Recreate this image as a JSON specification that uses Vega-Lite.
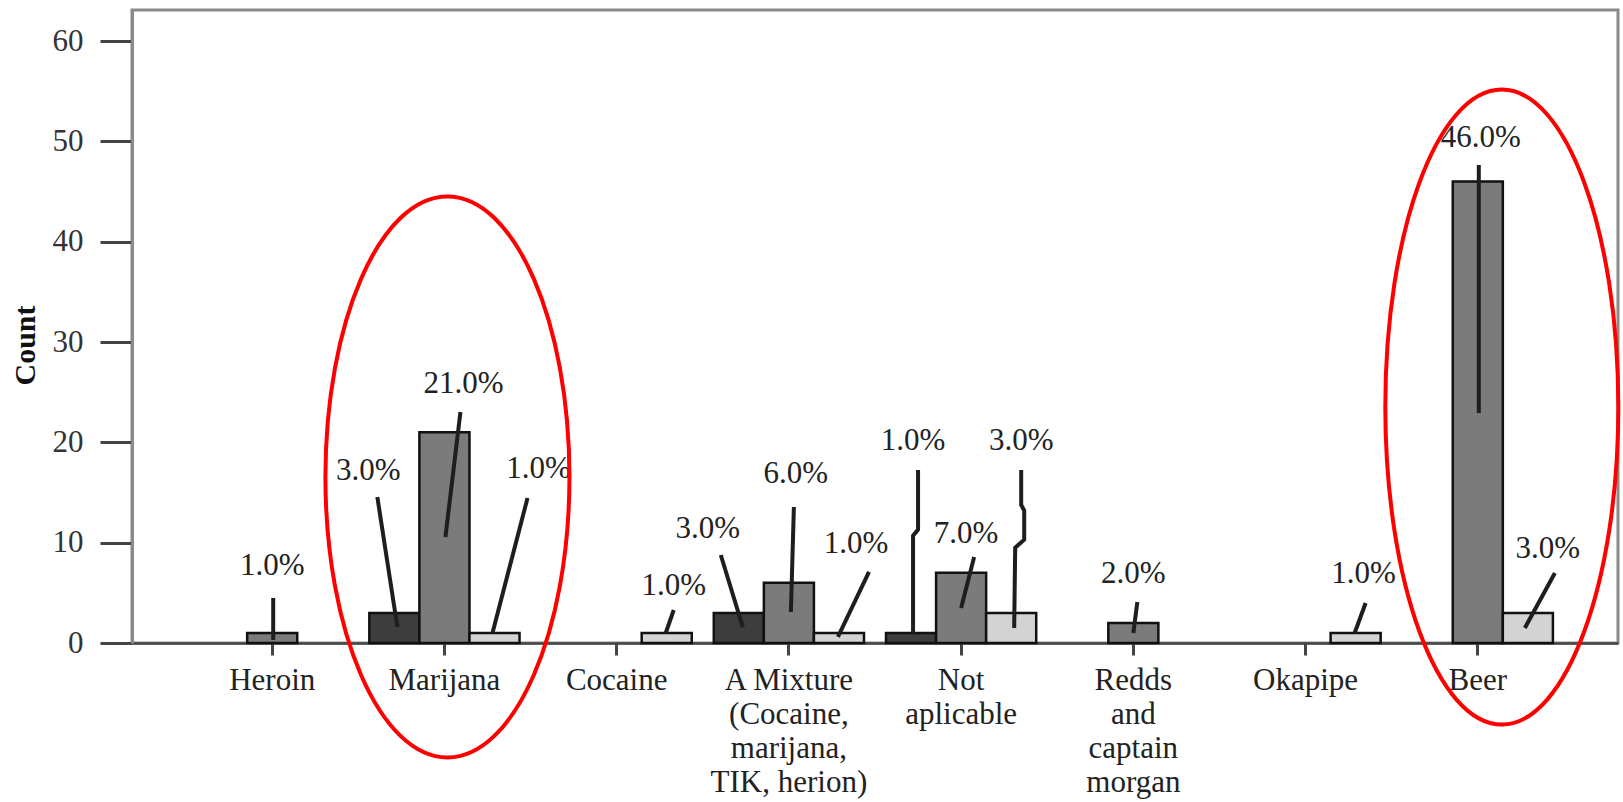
{
  "$schema": "https://vega.github.io/schema/vega-lite/v6.json",
  "width": 1486,
  "height": 633,
  "autosize": {"type": "none"},
  "padding": {"left": 132, "top": 10, "right": 5, "bottom": 159},
  "background": "white",
  "config": {
    "font": "Liberation Serif",
    "view": {"stroke": "#8a8a8a", "strokeWidth": 3}
  },
  "datasets": {
    "bars": [
      {"cat": "Heroin", "grp": "G2", "count": 1},
      {"cat": "Marijana", "grp": "G1", "count": 3},
      {"cat": "Marijana", "grp": "G2", "count": 21},
      {"cat": "Marijana", "grp": "G3", "count": 1},
      {"cat": "Cocaine", "grp": "G3", "count": 1},
      {"cat": "A Mixture\n(Cocaine,\nmarijana,\nTIK, herion)", "grp": "G1", "count": 3},
      {"cat": "A Mixture\n(Cocaine,\nmarijana,\nTIK, herion)", "grp": "G2", "count": 6},
      {"cat": "A Mixture\n(Cocaine,\nmarijana,\nTIK, herion)", "grp": "G3", "count": 1},
      {"cat": "Not\naplicable", "grp": "G1", "count": 1},
      {"cat": "Not\naplicable", "grp": "G2", "count": 7},
      {"cat": "Not\naplicable", "grp": "G3", "count": 3},
      {"cat": "Redds\nand\ncaptain\nmorgan", "grp": "G2", "count": 2},
      {"cat": "Okapipe", "grp": "G3", "count": 1},
      {"cat": "Beer", "grp": "G2", "count": 46},
      {"cat": "Beer", "grp": "G3", "count": 3}
    ],
    "labels": [
      {"cat": "Heroin", "pct": "1.0%", "off": 0, "count": 6.78},
      {"cat": "Marijana", "pct": "3.0%", "off": -1.52, "count": 16.25},
      {"cat": "Marijana", "pct": "21.0%", "off": 0.38, "count": 24.92},
      {"cat": "Marijana", "pct": "1.0%", "off": 1.88, "count": 16.45},
      {"cat": "Cocaine", "pct": "1.0%", "off": 1.14, "count": 4.78},
      {"cat": "A Mixture\n(Cocaine,\nmarijana,\nTIK, herion)", "pct": "3.0%", "off": -1.62, "count": 10.47},
      {"cat": "A Mixture\n(Cocaine,\nmarijana,\nTIK, herion)", "pct": "6.0%", "off": 0.14, "count": 15.95},
      {"cat": "A Mixture\n(Cocaine,\nmarijana,\nTIK, herion)", "pct": "1.0%", "off": 1.34, "count": 8.97},
      {"cat": "Not\naplicable", "pct": "1.0%", "off": -0.96, "count": 19.24},
      {"cat": "Not\naplicable", "pct": "7.0%", "off": 0.1, "count": 9.97},
      {"cat": "Not\naplicable", "pct": "3.0%", "off": 1.2, "count": 19.24},
      {"cat": "Redds\nand\ncaptain\nmorgan", "pct": "2.0%", "off": 0, "count": 5.98},
      {"cat": "Okapipe", "pct": "1.0%", "off": 1.16, "count": 5.98},
      {"cat": "Beer", "pct": "46.0%", "off": 0.06, "count": 49.44},
      {"cat": "Beer", "pct": "3.0%", "off": 1.4, "count": 8.47}
    ],
    "leaders": [
      {"id": 1, "pt": 1, "cat": "Heroin", "off": 0.02, "count": 4.49},
      {"id": 1, "pt": 2, "cat": "Heroin", "off": 0.02, "count": 0.3},
      {"id": 2, "pt": 1, "cat": "Marijana", "off": -1.34, "count": 14.55},
      {"id": 2, "pt": 2, "cat": "Marijana", "off": -0.94, "count": 1.59},
      {"id": 3, "pt": 1, "cat": "Marijana", "off": 0.32, "count": 23.02},
      {"id": 3, "pt": 2, "cat": "Marijana", "off": 0.02, "count": 10.57},
      {"id": 4, "pt": 1, "cat": "Marijana", "off": 1.66, "count": 14.45},
      {"id": 4, "pt": 2, "cat": "Marijana", "off": 0.96, "count": 1.0},
      {"id": 5, "pt": 1, "cat": "Cocaine", "off": 1.14, "count": 3.29},
      {"id": 5, "pt": 2, "cat": "Cocaine", "off": 0.98, "count": 1.0},
      {"id": 6, "pt": 1, "cat": "A Mixture\n(Cocaine,\nmarijana,\nTIK, herion)", "off": -1.36, "count": 8.77},
      {"id": 6, "pt": 2, "cat": "A Mixture\n(Cocaine,\nmarijana,\nTIK, herion)", "off": -0.92, "count": 1.59},
      {"id": 7, "pt": 1, "cat": "A Mixture\n(Cocaine,\nmarijana,\nTIK, herion)", "off": 0.1, "count": 13.56},
      {"id": 7, "pt": 2, "cat": "A Mixture\n(Cocaine,\nmarijana,\nTIK, herion)", "off": 0.04, "count": 3.09},
      {"id": 8, "pt": 1, "cat": "A Mixture\n(Cocaine,\nmarijana,\nTIK, herion)", "off": 1.6, "count": 7.08},
      {"id": 8, "pt": 2, "cat": "A Mixture\n(Cocaine,\nmarijana,\nTIK, herion)", "off": 0.98, "count": 0.6},
      {"id": 9, "pt": 1, "cat": "Not\naplicable", "off": -0.86, "count": 17.24},
      {"id": 9, "pt": 2, "cat": "Not\naplicable", "off": -0.86, "count": 11.3},
      {"id": 9, "pt": 3, "cat": "Not\naplicable", "off": -0.96, "count": 10.7},
      {"id": 9, "pt": 4, "cat": "Not\naplicable", "off": -0.96, "count": 1.0},
      {"id": 10, "pt": 1, "cat": "Not\naplicable", "off": 0.26, "count": 8.57},
      {"id": 10, "pt": 2, "cat": "Not\naplicable", "off": 0, "count": 3.49},
      {"id": 11, "pt": 1, "cat": "Not\naplicable", "off": 1.2, "count": 17.24},
      {"id": 11, "pt": 2, "cat": "Not\naplicable", "off": 1.2, "count": 13.75},
      {"id": 11, "pt": 3, "cat": "Not\naplicable", "off": 1.26, "count": 13.2},
      {"id": 11, "pt": 4, "cat": "Not\naplicable", "off": 1.26, "count": 10.3},
      {"id": 11, "pt": 5, "cat": "Not\naplicable", "off": 1.08, "count": 9.5},
      {"id": 11, "pt": 6, "cat": "Not\naplicable", "off": 1.06, "count": 1.5},
      {"id": 12, "pt": 1, "cat": "Redds\nand\ncaptain\nmorgan", "off": 0.08, "count": 4.09},
      {"id": 12, "pt": 2, "cat": "Redds\nand\ncaptain\nmorgan", "off": 0, "count": 1.0},
      {"id": 13, "pt": 1, "cat": "Okapipe", "off": 1.2, "count": 3.99},
      {"id": 13, "pt": 2, "cat": "Okapipe", "off": 0.98, "count": 1.0},
      {"id": 14, "pt": 1, "cat": "Beer", "off": 0.02, "count": 47.64},
      {"id": 14, "pt": 2, "cat": "Beer", "off": 0.02, "count": 22.92},
      {"id": 15, "pt": 1, "cat": "Beer", "off": 1.54, "count": 6.98},
      {"id": 15, "pt": 2, "cat": "Beer", "off": 0.94, "count": 1.5}
    ],
    "ellipses": [
      {"id": "marijana", "cat": "Marijana", "off": 0.06, "count": 16.55},
      {"id": "beer", "cat": "Beer", "off": 0.48, "count": 23.52}
    ]
  },
  "encoding": {
    "x": {
      "field": "cat",
      "type": "nominal",
      "sort": ["Heroin", "Marijana", "Cocaine", "A Mixture\n(Cocaine,\nmarijana,\nTIK, herion)", "Not\naplicable", "Redds\nand\ncaptain\nmorgan", "Okapipe", "Beer"],
      "scale": {"paddingInner": 0.1279, "paddingOuter": 0.378},
      "axis": {
        "title": null,
        "labelAngle": 0,
        "labelFont": "Liberation Serif",
        "labelFontSize": 31,
        "labelColor": "#222",
        "labelExpr": "split(datum.label, '\\n')",
        "labelLineHeight": 34,
        "labelPadding": 10,
        "labelBaseline": "top",
        "labelLimit": 400,
        "labelOverlap": false,
        "tickSize": 12,
        "tickWidth": 3,
        "tickColor": "#444",
        "domainColor": "#444",
        "domainWidth": 2.5
      }
    },
    "y": {
      "field": "count",
      "type": "quantitative",
      "scale": {"domain": [0, 63.09], "nice": false},
      "axis": {
        "title": "Count",
        "values": [0, 10, 20, 30, 40, 50, 60],
        "grid": false,
        "titleFont": "Liberation Serif",
        "titleFontSize": 30,
        "titleFontWeight": "bold",
        "titleColor": "#111",
        "titleAngle": -90,
        "titleX": -98,
        "titleY": 335,
        "titleAlign": "center",
        "titleBaseline": "alphabetic",
        "labelFont": "Liberation Serif",
        "labelFontSize": 31,
        "labelColor": "#333",
        "labelPadding": 17,
        "tickSize": 32,
        "tickWidth": 3,
        "tickColor": "#444",
        "domainColor": "#8a8a8a",
        "domainWidth": 3
      }
    }
  },
  "layer": [
    {
      "data": {"name": "bars"},
      "mark": {"type": "bar", "stroke": "#111", "strokeWidth": 2.5},
      "encoding": {
        "xOffset": {"field": "grp", "type": "nominal", "scale": {"domain": ["G1", "G2", "G3"], "paddingInner": 0, "paddingOuter": 0}},
        "color": {"field": "grp", "type": "nominal", "scale": {"domain": ["G1", "G2", "G3"], "range": ["#3d3d3d", "#7b7b7b", "#d3d3d3"]}, "legend": null}
      }
    },
    {
      "data": {"name": "leaders"},
      "mark": {"type": "line", "stroke": "#1e1e1e", "strokeWidth": 4},
      "encoding": {
        "xOffset": {"field": "off", "type": "quantitative", "scale": {"domain": [-1.5, 1.5], "nice": false, "zero": false}},
        "detail": {"field": "id", "type": "nominal"},
        "order": {"field": "pt", "type": "quantitative"}
      }
    },
    {
      "data": {"name": "labels"},
      "mark": {"type": "text", "font": "Liberation Serif", "fontSize": 31, "color": "#222", "align": "center", "baseline": "alphabetic"},
      "encoding": {
        "xOffset": {"field": "off", "type": "quantitative", "scale": {"domain": [-1.5, 1.5], "nice": false, "zero": false}},
        "text": {"field": "pct", "type": "nominal"}
      }
    },
    {
      "data": {"name": "ellipses"},
      "transform": [{"filter": "datum.id === 'marijana'"}],
      "mark": {"type": "point", "filled": false, "stroke": "#ff0000", "strokeWidth": 4, "opacity": 1, "size": 314721, "shape": "M0,-1C0.2402,-1,0.435,-0.5523,0.435,0C0.435,0.5523,0.2402,1,0,1C-0.2402,1,-0.435,0.5523,-0.435,0C-0.435,-0.5523,-0.2402,-1,0,-1Z"},
      "encoding": {
        "xOffset": {"field": "off", "type": "quantitative", "scale": {"domain": [-1.5, 1.5], "nice": false, "zero": false}}
      }
    },
    {
      "data": {"name": "ellipses"},
      "transform": [{"filter": "datum.id === 'beer'"}],
      "mark": {"type": "point", "filled": false, "stroke": "#ff0000", "strokeWidth": 4, "opacity": 1, "size": 403225, "shape": "M0,-1C0.2027,-1,0.367,-0.5523,0.367,0C0.367,0.5523,0.2027,1,0,1C-0.2027,1,-0.367,0.5523,-0.367,0C-0.367,-0.5523,-0.2027,-1,0,-1Z"},
      "encoding": {
        "xOffset": {"field": "off", "type": "quantitative", "scale": {"domain": [-1.5, 1.5], "nice": false, "zero": false}}
      }
    }
  ],
  "resolve": {"scale": {"xOffset": "independent"}}
}
